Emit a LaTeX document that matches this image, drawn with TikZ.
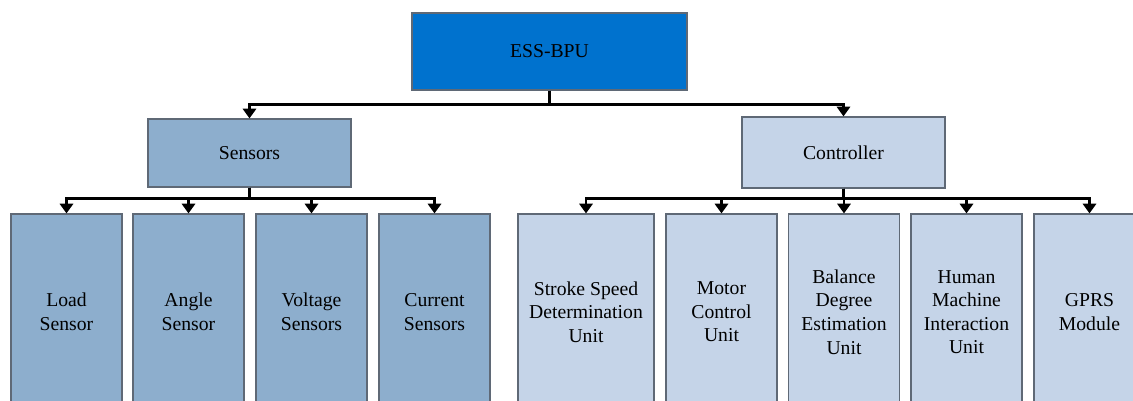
\documentclass[tikz,border=0pt]{standalone}
\usepackage{fontspec}
\setmainfont{Liberation Serif}
\usetikzlibrary{arrows.meta}

\definecolor{topblue}{RGB}{0,114,206}
\definecolor{midblue}{RGB}{141,174,205}
\definecolor{paleblue}{RGB}{197,212,232}
\definecolor{edgegray}{RGB}{95,105,118}

\begin{document}
\begin{tikzpicture}[x=0.02cm,y=-0.02cm,
	box/.style={draw=edgegray,line width=0.7pt,align=center,inner sep=0pt,
		font=\fontsize{11.2}{13.4}\selectfont},
	rootbox/.style={box,fill=topblue,minimum width=5.5cm,minimum height=1.54cm},
	sensbox/.style={box,fill=midblue},
	ctrlbox/.style={box,fill=paleblue},
	leaf/.style={minimum width=2.22cm,minimum height=3.92cm},
	link/.style={line width=1.5pt,-{Triangle[width=7.5pt,length=5.5pt]}}]
	\useasboundingbox (0,0) rectangle (1133,400);
	\clip (0,0) rectangle (1133,400);
	\node[rootbox] (root) at (549.5,51.5) {ESS-BPU};
	\node[sensbox,minimum width=4.06cm,minimum height=1.36cm] (sensors) at (249.5,153) {Sensors};
	\node[ctrlbox,minimum width=4.06cm,minimum height=1.42cm] (controller) at (843.5,152.5) {Controller};
	\node[sensbox,leaf] (load) at (66.5,312) {Load\\Sensor};
	\node[sensbox,leaf] (angle) at (188.5,312) {Angle\\Sensor};
	\node[sensbox,leaf] (voltage) at (311.5,312) {Voltage\\Sensors};
	\node[sensbox,leaf] (current) at (434.5,312) {Current\\Sensors};
	\node[ctrlbox,leaf,minimum width=2.72cm] (stroke) at (586,312) {Stroke Speed\\Determination\\Unit};
	\node[ctrlbox,leaf] (motor) at (721.5,312) {Motor\\Control\\Unit};
	\node[ctrlbox,leaf] (balance) at (844,312) {Balance\\Degree\\Estimation\\Unit};
	\node[ctrlbox,leaf] (hmi) at (966.5,312) {Human\\Machine\\Interaction\\Unit};
	\node[ctrlbox,leaf] (gprs) at (1089.5,312) {GPRS\\Module};
	\draw[link] (root.south) -- ++(0,14) -| (sensors.north);
	\draw[link] (root.south) -- ++(0,14) -| (controller.north);
	\foreach \n in {load,angle,voltage,current}
		\draw[link] (sensors.south) -- ++(0,11) -| (\n.north);
	\foreach \n in {stroke,motor,balance,hmi,gprs}
		\draw[link] (controller.south) -- ++(0,10) -| (\n.north);
\end{tikzpicture}
\end{document}
